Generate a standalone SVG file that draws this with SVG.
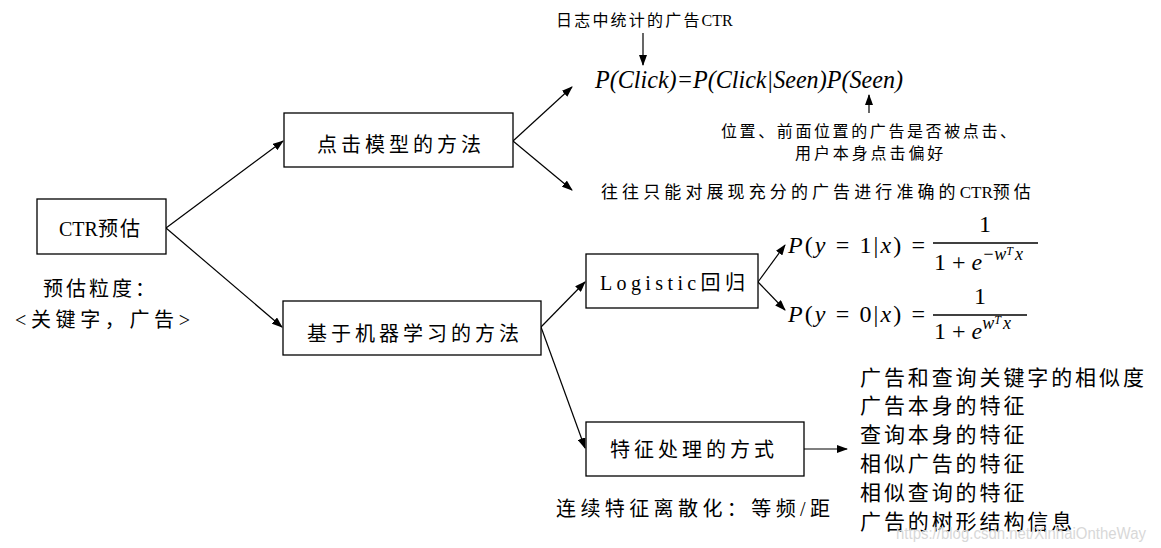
<svg xmlns="http://www.w3.org/2000/svg" width="1161" height="548" viewBox="0 0 1161 548">
<style>
.box{fill:#fff;stroke:#000;stroke-width:1.3}
.t{font-family:'Liberation Serif','Noto Sans CJK SC',serif;fill:#000}
.b{font-size:20px;letter-spacing:4px}
.s{font-size:16px}
.l{font-size:21px;letter-spacing:2.9px}
.m{font-family:'Liberation Serif','DejaVu Serif',serif;fill:#000}
.i{font-style:italic}
.c{stroke:#000;stroke-width:1.2;fill:none;marker-end:url(#ah)}
</style>
<defs>
<marker id="ah" markerUnits="userSpaceOnUse" markerWidth="11" markerHeight="8" refX="10" refY="4" orient="auto">
<path d="M0,0 L11,4 L0,8 z" fill="#000"/>
</marker>
</defs>
<rect width="1161" height="548" fill="#fff"/>
<g id="connectors">
<line class="c" x1="166" y1="228" x2="283" y2="141"/>
<line class="c" x1="166" y1="228" x2="282" y2="327"/>
<line class="c" x1="513" y1="141" x2="572" y2="87"/>
<line class="c" x1="513" y1="141" x2="572" y2="190"/>
<line class="c" x1="541" y1="327" x2="585" y2="282"/>
<line class="c" x1="541" y1="327" x2="585" y2="448"/>
<line class="c" x1="758" y1="282" x2="785" y2="245"/>
<line class="c" x1="758" y1="282" x2="785" y2="310"/>
<line class="c" x1="804" y1="449" x2="847" y2="449"/>
<line class="c" x1="643" y1="33" x2="643" y2="65"/>
<line class="c" x1="869" y1="113" x2="869" y2="95"/>
</g>
<g id="ctr">
<rect class="box" x="37" y="199" width="129" height="55"/>
<text class="t" x="59" y="236" font-size="20">CTR<tspan letter-spacing="2">预估</tspan></text>
</g>
<g id="granularity">
<text class="t" x="43" y="296" font-size="20" letter-spacing="3">预估粒度：</text>
<text class="t" x="15" y="327" font-size="20" textLength="175" lengthAdjust="spacing">&lt;关键字，广告&gt;</text>
</g>
<g id="click-model">
<rect class="box" x="284" y="113" width="229" height="54"/>
<text class="t b" x="317" y="152">点击模型的方法</text>
</g>
<g id="ml-method">
<rect class="box" x="283" y="301" width="258" height="54"/>
<text class="t b" x="307" y="341">基于机器学习的方法</text>
</g>
<g id="logistic">
<rect class="box" x="586" y="254" width="172" height="54"/>
<text class="t" x="600" y="290" font-size="20" textLength="145" lengthAdjust="spacing">Logistic回归</text>
</g>
<g id="feature">
<rect class="box" x="586" y="422" width="218" height="54"/>
<text class="t b" x="610" y="457">特征处理的方式</text>
</g>
<g id="log-ctr">
<text class="t" x="556" y="26" font-size="16" letter-spacing="2.2">日志中统计的广告<tspan letter-spacing="0">CTR</tspan></text>
</g>
<g id="formula-click">
<text class="m i" x="595" y="88" font-size="25" textLength="308" lengthAdjust="spacingAndGlyphs">P(Click)=P(Click|Seen)P(Seen)</text>
</g>
<g id="position-note">
<text class="t s" x="721" y="137" letter-spacing="2.6">位置、前面位置的广告是否被点击、</text>
<text class="t s" x="795" y="159" letter-spacing="2.9">用户本身点击偏好</text>
</g>
<g id="limit-note">
<text class="t" x="601" y="198" font-size="17" letter-spacing="4.1">往往只能对展现充分的广告进行准确的<tspan letter-spacing="0">CTR</tspan><tspan letter-spacing="4">预估</tspan></text>
</g>
<g id="formula-y1">
<text class="m" x="788" y="253" font-size="24" textLength="137" lengthAdjust="spacing"><tspan class="i">P</tspan>(<tspan class="i">y</tspan> = 1|<tspan class="i">x</tspan>) =</text>
<text class="m" x="985" y="232" font-size="24" text-anchor="middle">1</text>
<line x1="933" y1="243" x2="1038" y2="243" stroke="#000" stroke-width="1.3"/>
<text class="m" x="934" y="270" font-size="24">1 + <tspan class="i">e</tspan><tspan class="i" font-size="18" dy="-10">−w</tspan><tspan class="i" font-size="12" dy="-5">T</tspan><tspan class="i" font-size="18" dy="5" dx="2">x</tspan></text>
</g>
<g id="formula-y0">
<text class="m" x="788" y="322" font-size="24" textLength="137" lengthAdjust="spacing"><tspan class="i">P</tspan>(<tspan class="i">y</tspan> = 0|<tspan class="i">x</tspan>) =</text>
<text class="m" x="980" y="304" font-size="24" text-anchor="middle">1</text>
<line x1="933" y1="315" x2="1027" y2="315" stroke="#000" stroke-width="1.3"/>
<text class="m" x="934" y="339" font-size="24">1 + <tspan class="i">e</tspan><tspan class="i" font-size="18" dy="-10">w</tspan><tspan class="i" font-size="12" dy="-5">T</tspan><tspan class="i" font-size="18" dy="5" dx="2">x</tspan></text>
</g>
<g id="discretize">
<text class="t" x="556" y="516" font-size="20" textLength="274" lengthAdjust="spacing">连续特征离散化：等频/距</text>
</g>
<g id="feature-list">
<text class="t l" x="860" y="385">广告和查询关键字的相似度</text>
<text class="t l" x="860" y="413">广告本身的特征</text>
<text class="t l" x="860" y="442">查询本身的特征</text>
<text class="t l" x="860" y="471">相似广告的特征</text>
<text class="t l" x="860" y="500">相似查询的特征</text>
<text class="t l" x="860" y="529">广告的树形结构信息</text>
</g>
<g id="watermark">
<text x="896" y="539" font-family="'Liberation Sans',Arial,sans-serif" font-size="16" fill="#d8d8d8" textLength="250" lengthAdjust="spacingAndGlyphs">https://blog.csdn.net/XinhaiOntheWay</text>
</g>
</svg>
